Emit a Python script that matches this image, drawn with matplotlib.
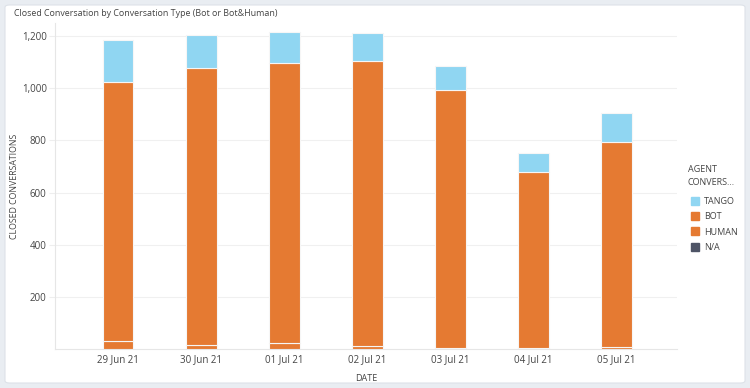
import numpy as np
import matplotlib.pyplot as plt
from matplotlib.patches import FancyBboxPatch
from matplotlib.lines import Line2D

dates = ["29 Jun 21", "30 Jun 21", "01 Jul 21", "02 Jul 21", "03 Jul 21", "04 Jul 21", "05 Jul 21"]
na_vals = [1, 1, 1, 1, 1, 1, 1]
human = [29, 15, 22, 12, 2, 1, 7]
bot = [994, 1063, 1074, 1092, 990, 676, 785]
tango = [160, 125, 119, 108, 94, 72, 111]

c_tango = "#90d6f2"
c_bot = "#e57a32"
c_human = "#e57a32"
c_na = "#4e5466"
txt = "#444444"

plt.rcParams["font.family"] = ["Open Sans", "DejaVu Sans"]

fig = plt.figure(figsize=(7.5, 3.88), dpi=100)
fig.patch.set_facecolor("#e9edf2")
panel = FancyBboxPatch((5 / 750, 5 / 388), 740 / 750, 378 / 388,
                       boxstyle="round,pad=0,rounding_size=0.006",
                       transform=fig.transFigure, facecolor="white",
                       edgecolor="#dde2e8", lw=0.8, zorder=-5)
fig.patches.append(panel)

ax = fig.add_axes([55 / 750, 1 - 349 / 388, 622 / 750, 326 / 388])
ax.set_zorder(2)
ax.set_facecolor("none")
x = np.arange(len(dates))
w = 0.37
na_a = np.array(na_vals)
hu_a = np.array(human)
bo_a = np.array(bot)
ta_a = np.array(tango)

kw = dict(width=w, edgecolor="#f6f6f6", linewidth=0.8, zorder=3)
ax.bar(x, na_a, color=c_na, **kw)
ax.bar(x, hu_a, bottom=na_a, color=c_human, **kw)
ax.bar(x, bo_a, bottom=na_a + hu_a, color=c_bot, **kw)
ax.bar(x, ta_a, bottom=na_a + hu_a + bo_a, color=c_tango, **kw)

ax.set_xlim(-0.76, 6.73)
ax.set_ylim(0, 1250)
ax.set_yticks([200, 400, 600, 800, 1000, 1200])
ax.set_yticklabels(["200", "400", "600", "800", "1,000", "1,200"])
ax.set_xticks(x)
ax.set_xticklabels(dates)
ax.tick_params(axis="both", labelsize=7, colors=txt)
ax.tick_params(axis="y", length=4, color="#eeeeee", pad=2)
ax.tick_params(axis="x", length=0, pad=4)
ax.grid(axis="y", color="#f0f0f0", lw=0.8, zorder=0)
for s in ["top", "right"]:
    ax.spines[s].set_visible(False)
ax.spines["left"].set_color("#e6e6e6")
ax.spines["bottom"].set_color("#e6e6e6")

ax.set_xlabel("DATE", fontsize=6.5, color=txt, labelpad=6)
fig.text(15 / 750, 1 - 186 / 388, "CLOSED CONVERSATIONS", rotation=90,
         fontsize=6.3, color=txt, ha="center", va="center")
fig.text(14 / 750, 1 - 14 / 388, "Closed Conversation by Conversation Type (Bot or Bot&Human)",
         fontsize=6.4, color=txt, ha="left", va="center")

handles = [Line2D([], [], marker="s", ls="", color=c, markersize=5.5)
           for c in [c_tango, c_bot, c_human, c_na]]
leg = fig.legend(handles, ["TANGO", "BOT", "HUMAN", "N/A"], title="AGENT\nCONVERS...",
                 loc="upper left", bbox_to_anchor=(688 / 750, 1 - 165 / 388),
                 frameon=False, fontsize=6.5, title_fontsize=6.5, handletextpad=0.2,
                 handlelength=1.6, labelspacing=0.7, alignment="left",
                 labelcolor=txt, borderaxespad=0, borderpad=0)
leg.get_title().set_color(txt)
leg.get_title().set_linespacing(1.6)
leg._legend_box.sep = 7

fig.savefig("out.png", dpi=100, facecolor=fig.get_facecolor())
